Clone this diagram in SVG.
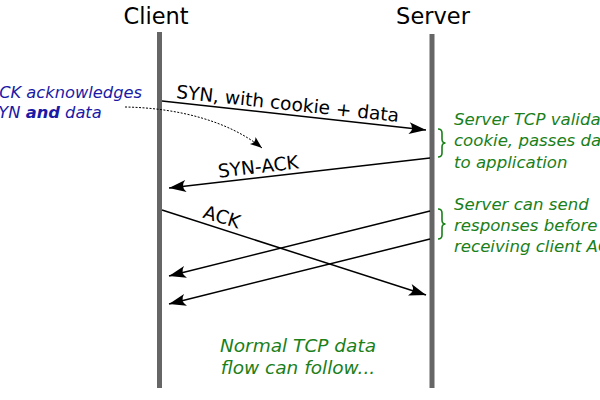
<svg xmlns="http://www.w3.org/2000/svg" width="600" height="400" viewBox="0 0 600 400">
<style>
.title{font-family:"DejaVu Sans",sans-serif;font-size:22.5px;fill:#000;text-anchor:middle}
.lbl{font-family:"DejaVu Sans",sans-serif;font-size:18.6px;fill:#000;text-anchor:middle}
.life{stroke:#666;stroke-width:5;fill:none}
.msg{stroke:#000;stroke-width:1.5;fill:none;marker-end:url(#ah)}
.green{font-family:"DejaVu Sans",sans-serif;font-style:italic;font-size:16.6px;fill:#1a801a}
.blue{font-family:"DejaVu Sans",sans-serif;font-style:italic;font-size:16.3px;fill:#1a1aa6}
.brace{stroke:#1a801a;stroke-width:1.6;fill:none}
</style>
<defs>
<marker id="ah" markerUnits="userSpaceOnUse" markerWidth="20" markerHeight="14" refX="0" refY="0" viewBox="-17 -7 20 14" orient="auto" overflow="visible">
<path d="M0,0 L-17,-6 Q-11,0 -17,6 Z" fill="#000"/>
</marker>
<marker id="ahs" markerUnits="userSpaceOnUse" markerWidth="14" markerHeight="10" refX="0" refY="0" viewBox="-13 -5 14 10" orient="auto" overflow="visible">
<path d="M0,0 L-12,-4.5 Q-8,0 -12,4.5 Z" fill="#000"/>
</marker>
</defs>
<g id="client">
<text class="title" x="156" y="24">Client</text>
<line class="life" x1="159.5" y1="32" x2="159.5" y2="388"/>
</g>
<g id="server">
<text class="title" x="433" y="24">Server</text>
<line class="life" x1="432" y1="34" x2="432" y2="388"/>
</g>
<g id="connectors">
<line class="msg" x1="162" y1="101" x2="426" y2="130"/>
<line class="msg" x1="430" y1="158" x2="169" y2="188"/>
<line class="msg" x1="162" y1="210" x2="426" y2="295"/>
<line class="msg" x1="430" y1="211" x2="169" y2="276"/>
<line class="msg" x1="430" y1="239" x2="169" y2="304"/>
<path d="M125,107 C180,108 230,122 262,148" stroke="#000" stroke-width="1" stroke-dasharray="2,1.5" fill="none" marker-end="url(#ahs)"/>
</g>
<g id="labels">
<text class="lbl" transform="translate(287,110) rotate(6.2)">SYN, with cookie + data</text>
<text class="lbl" transform="translate(259,173) rotate(-6.6)">SYN-ACK</text>
<text class="lbl" transform="translate(220,223) rotate(17.4)">ACK</text>
</g>
<g id="note-left">
<text class="blue" x="-12" y="98">ACK acknowledges</text>
<text class="blue" x="-12" y="118">SYN <tspan font-weight="bold">and</tspan> data</text>
</g>
<g id="note-validate">
<path class="brace" d="M438,129 q4,0 4,4 v6 q0,4 3.5,4 q-3.5,0 -3.5,4 v6 q0,4 -4,4"/>
<text class="green" x="454" y="125">Server TCP validates</text>
<text class="green" x="454" y="146">cookie, passes data</text>
<text class="green" x="454" y="168">to application</text>
</g>
<g id="note-send">
<path class="brace" d="M438,209 q4,0 4,4 v7 q0,4 3.5,4 q-3.5,0 -3.5,4 v7 q0,4 -4,4"/>
<text class="green" x="454" y="210">Server can send</text>
<text class="green" x="454" y="231">responses before</text>
<text class="green" x="454" y="252">receiving client ACK</text>
</g>
<g id="note-bottom">
<text class="green" x="298" y="352" text-anchor="middle" style="font-size:18.5px">Normal TCP data</text>
<text class="green" x="298" y="374" text-anchor="middle" style="font-size:18.5px">flow can follow...</text>
</g>
</svg>
